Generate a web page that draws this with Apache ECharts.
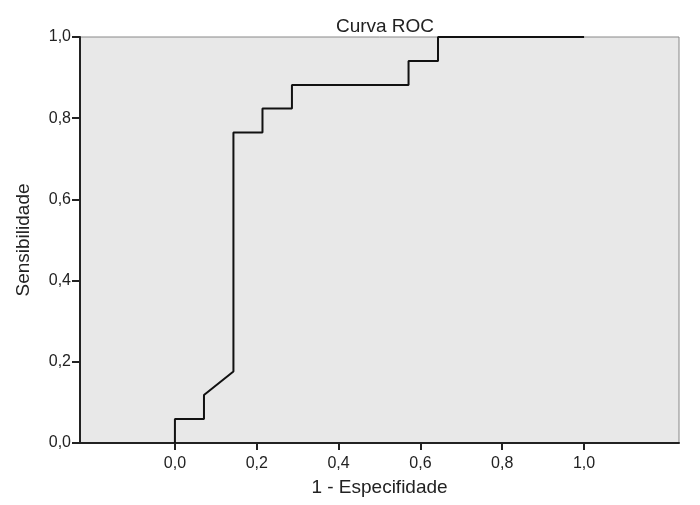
<!DOCTYPE html>
<html>
<head>
<meta charset="utf-8">
<script src="https://cdn.jsdelivr.net/npm/echarts@6/dist/echarts.min.js"></script>
<style>
  html, body { margin: 0; padding: 0; background: #fff; }
  #chart { width: 700px; height: 505px; }
</style>
</head>
<body>
<div id="chart"></div>
<script>
  // pontos da curva ROC (1 - especificidade, sensibilidade)
  var fpr = [0, 0, 0.071, 0.071, 0.143, 0.143, 0.214, 0.214, 0.286, 0.286, 0.571, 0.571, 0.643, 0.643, 1.0];
  var sens = [0, 0.059, 0.059, 0.118, 0.176, 0.765, 0.765, 0.824, 0.824, 0.882, 0.882, 0.941, 0.941, 1.0, 1.0];
  var xTicks = [0, 0.2, 0.4, 0.6, 0.8, 1.0];

  var font = '"Liberation Sans", Arial, Helvetica, sans-serif';
  var fmt = function (v) { return v.toFixed(1).replace('.', ','); };

  var chart = echarts.init(document.getElementById('chart'));
  var option = {
    animation: false,
    textStyle: { fontFamily: font },
    title: {
      text: 'Curva ROC',
      left: 380,
      top: 12,
      textAlign: 'center',
      textStyle: { fontFamily: font, fontSize: 19, fontWeight: 'normal', color: '#222' }
    },
    grid: {
      left: 80, top: 37, right: 21, bottom: 62,
      show: true,
      backgroundColor: '#e8e8e8',
      borderColor: '#888',
      borderWidth: 1
    },
    xAxis: {
      type: 'value',
      min: -0.232,
      max: 1.232,
      name: '1 - Especifidade',
      nameLocation: 'middle',
      nameGap: 35,
      nameTextStyle: { fontFamily: font, fontSize: 19, color: '#222' },
      axisLine: { onZero: false, lineStyle: { color: '#222', width: 2 } },
      axisTick: { customValues: xTicks, length: 7, lineStyle: { color: '#222', width: 2 } },
      axisLabel: { customValues: xTicks, formatter: fmt, margin: 13, fontSize: 16, color: '#222', fontFamily: font },
      splitLine: { show: false }
    },
    yAxis: {
      type: 'value',
      min: 0,
      max: 1,
      interval: 0.2,
      name: 'Sensibilidade',
      nameLocation: 'middle',
      nameGap: 47,
      nameTextStyle: { fontFamily: font, fontSize: 19, color: '#222' },
      axisLine: { show: true, onZero: false, lineStyle: { color: '#222', width: 2 } },
      axisTick: { show: true, length: 8, lineStyle: { color: '#222', width: 2 } },
      axisLabel: { formatter: fmt, margin: 9, fontSize: 16, color: '#222', fontFamily: font },
      splitLine: { show: false }
    },
    series: [{
      type: 'line',
      data: fpr.map(function (x, i) { return [x, sens[i]]; }),
      showSymbol: false,
      clip: false,
      lineStyle: { color: '#111', width: 2 },
      z: 5
    }]
  };
  chart.setOption(option);
</script>
</body>
</html>
